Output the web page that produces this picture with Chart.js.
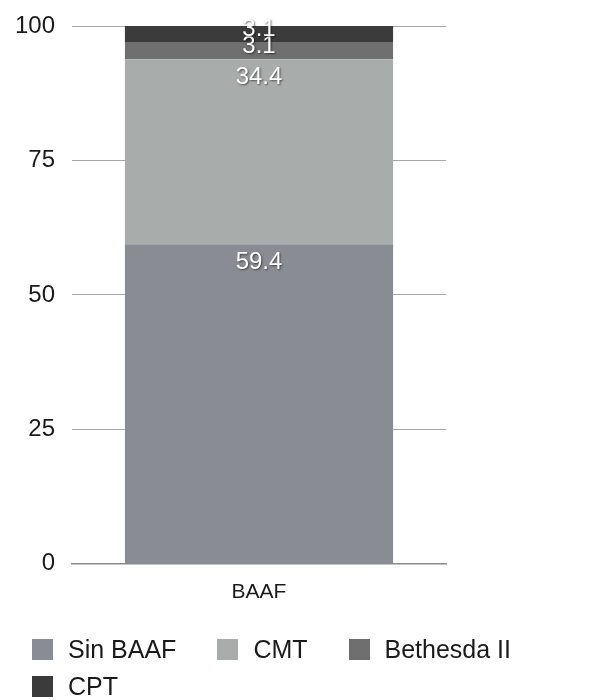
<!DOCTYPE html>
<html>
<head>
<meta charset="utf-8">
<script src="https://cdn.jsdelivr.net/npm/chart.js@4/dist/chart.umd.min.js"></script>
<style>
  html, body { margin: 0; padding: 0; background: #ffffff; }
  #wrap { position: relative; width: 613px; height: 700px; }
  #legend {
    position: absolute; left: 32px; top: 638px; width: 530px;
    display: flex; flex-wrap: wrap; row-gap: 15px;
    font-family: 'Liberation Sans', Helvetica, Arial, sans-serif;
    font-size: 25px; color: #1a1a1a;
  }
  #legend .item { display: flex; align-items: center; height: 22px; margin-right: 41px; }
  #legend .box { width: 21px; height: 21px; margin-right: 15px; }
  #legend .text { line-height: 22px; white-space: nowrap; }
</style>
</head>
<body>
<div id="wrap">
  <canvas id="c" width="613" height="700"></canvas>
  <div id="legend"></div>
</div>
<script>
// Categories, series and axis ticks
const categories = ['BAAF'];
const seriesNames = ['Sin BAAF', 'CMT', 'Bethesda II', 'CPT'];
const sinBaaf = [59.4];
const cmt = [34.4];
const bethesda = [3.1];
const cpt = [3.1];
const yTicks = [0, 25, 50, 75, 100];

const seriesValues = [sinBaaf, cmt, bethesda, cpt];
const seriesColors = ['#898d93', '#a8acab', '#6f6f6f', '#3b3b3b'];

const FONT = "'Liberation Sans', Helvetica, Arial, sans-serif";

// Writes each segment's value near the top of its segment
const valueLabels = {
  id: 'valueLabels',
  afterDatasetsDraw(chart) {
    const ctx = chart.ctx;
    ctx.save();
    ctx.font = '24px ' + FONT;
    ctx.textAlign = 'center';
    ctx.textBaseline = 'middle';
    ctx.fillStyle = '#ffffff';
    ctx.shadowColor = 'rgba(0,0,0,0.55)';
    ctx.shadowBlur = 2;
    ctx.shadowOffsetX = 1;
    ctx.shadowOffsetY = 1;
    chart.data.datasets.forEach((ds, i) => {
      const meta = chart.getDatasetMeta(i);
      meta.data.forEach((bar, j) => {
        const top = Math.min(bar.y, bar.base);
        const bottom = Math.max(bar.y, bar.base);
        const cy = Math.min(top + 18, (top + bottom) / 2 - 5);
        ctx.fillText(String(ds.data[j]), bar.x, cy);
      });
    });
    ctx.restore();
  }
};

// Legend built from the chart's own legend items
const htmlLegend = {
  id: 'htmlLegend',
  afterUpdate(chart) {
    const host = document.getElementById('legend');
    host.innerHTML = '';
    const items = chart.options.plugins.legend.labels.generateLabels(chart);
    items.forEach(it => {
      const item = document.createElement('div');
      item.className = 'item';
      const box = document.createElement('span');
      box.className = 'box';
      box.style.background = it.fillStyle;
      const text = document.createElement('span');
      text.className = 'text';
      text.textContent = it.text;
      item.appendChild(box);
      item.appendChild(text);
      host.appendChild(item);
    });
  }
};

new Chart(document.getElementById('c'), {
  type: 'bar',
  data: {
    labels: categories,
    datasets: seriesNames.map((name, i) => ({
      label: name,
      data: seriesValues[i],
      backgroundColor: seriesColors[i],
      borderWidth: 0,
      barPercentage: 0.717,
      categoryPercentage: 1.0
    }))
  },
  options: {
    responsive: false,
    animation: false,
    layout: { padding: { top: 26, left: 10, right: 0, bottom: 79 } },
    plugins: {
      tooltip: { enabled: false },
      legend: { display: false }
    },
    scales: {
      x: {
        stacked: true,
        grid: { display: false, drawTicks: false },
        border: { display: true, color: '#8a8a8a', width: 1.5 },
        ticks: { color: '#1a1a1a', padding: 16, font: { family: FONT, size: 21 } }
      },
      y: {
        stacked: true,
        min: 0,
        max: 100,
        afterBuildTicks(scale) { scale.ticks = yTicks.map(v => ({ value: v })); },
        afterFit(scale) { scale.width = 62; scale.paddingTop = 0; scale.paddingBottom = 0; },
        grid: { color: '#a8a8a8', lineWidth: 1, drawTicks: false },
        border: { display: false },
        ticks: { color: '#1a1a1a', padding: 17, font: { family: FONT, size: 24 } }
      },
      yRight: {
        position: 'right',
        min: 0,
        max: 100,
        grid: { display: false, drawTicks: false },
        border: { display: false },
        ticks: { display: false },
        afterFit(scale) { scale.width = 167; scale.paddingTop = 0; scale.paddingBottom = 0; }
      }
    }
  },
  plugins: [valueLabels, htmlLegend]
});
</script>
</body>
</html>
